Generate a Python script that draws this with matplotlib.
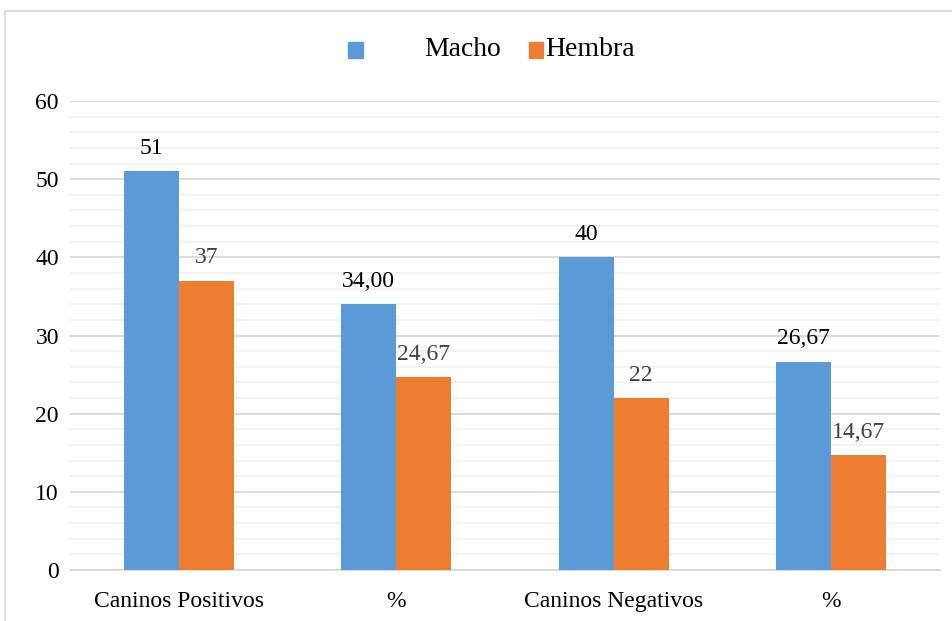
import matplotlib
matplotlib.use("Agg")

import matplotlib.pyplot as plt
import numpy as np
from matplotlib.patches import Rectangle
from matplotlib.ticker import MultipleLocator

plt.rcParams["font.family"] = ["Liberation Serif", "DejaVu Serif"]

categories = ["Caninos Positivos", "%", "Caninos Negativos", "%"]
macho = [51, 34.00, 40, 26.67]
hembra = [37, 24.67, 22, 14.67]
macho_labels = ["51", "34,00", "40", "26,67"]
hembra_labels = ["37", "24,67", "22", "14,67"]

BLUE = "#5b9bd5"
ORANGE = "#ed7d31"

fig = plt.figure(figsize=(9.53, 6.21), dpi=100)
ax = fig.add_axes([0.0735, 0.0821, 0.9125, 0.7552])

x = np.arange(len(categories))
width = 0.253
b1 = ax.bar(x - width / 2, macho, width, color=BLUE, label="Macho", zorder=3)
b2 = ax.bar(x + width / 2, hembra, width, color=ORANGE, label="Hembra", zorder=3)

ax.bar_label(b1, labels=macho_labels, padding=9, fontsize=17, color="black")
ax.bar_label(b2, labels=hembra_labels, padding=9, fontsize=17, color="#404040")

ax.set_xlim(-0.5, 3.5)
ax.set_ylim(0, 60)
ax.yaxis.set_major_locator(MultipleLocator(10))
ax.yaxis.set_minor_locator(MultipleLocator(2))
ax.grid(axis="y", which="major", color="#d9d9d9", linewidth=1.3, zorder=0)
ax.grid(axis="y", which="minor", color="#f2f2f2", linewidth=1.3, zorder=0)
ax.set_axisbelow(True)

ax.set_xticks(x)
ax.set_xticklabels(categories, fontsize=17)
ax.tick_params(axis="both", which="both", length=0, labelsize=17)
ax.tick_params(axis="x", pad=15)
ax.tick_params(axis="y", pad=8)
for side in ["left", "right", "top"]:
    ax.spines[side].set_visible(False)
ax.spines["bottom"].set_color("#d9d9d9")
ax.spines["bottom"].set_linewidth(1.3)

# legend drawn by hand to keep the wide gap after the first swatch
fig.add_artist(Rectangle((348 / 953, 1 - 57.5 / 621), 15 / 953, 15.5 / 621,
                         transform=fig.transFigure, color=BLUE))
fig.text(424 / 953, 1 - 49.5 / 621, "Macho", fontsize=20, va="center", ha="left")
fig.add_artist(Rectangle((529 / 953, 1 - 57.5 / 621), 14 / 953, 15.5 / 621,
                         transform=fig.transFigure, color=ORANGE))
fig.text(545 / 953, 1 - 49.5 / 621, "Hembra", fontsize=20, va="center", ha="left")

# light outer frame of the chart area
fig.add_artist(Rectangle((4.5 / 953, -0.1), 1.2, 1.1 - 10.5 / 621,
                         transform=fig.transFigure, fill=False,
                         edgecolor="#d9d9d9", linewidth=1.2))

fig.savefig("out.png", dpi=100)
